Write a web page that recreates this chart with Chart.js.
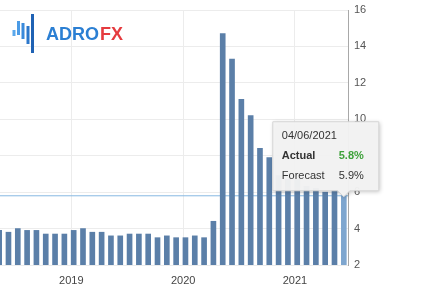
<!DOCTYPE html>
<html>
<head>
<meta charset="utf-8">
<script src="https://cdn.jsdelivr.net/npm/chart.js@4/dist/chart.umd.min.js"></script>
<style>
html,body{margin:0;padding:0;background:#fff;}
#wrap{width:428px;height:287px;position:relative;}
</style>
</head>
<body>
<div id="wrap"><canvas id="c" width="428" height="287"></canvas></div>
<script>
// Release dates (dd/mm/yyyy) of the US unemployment rate
const releaseDates = ['04/05/2018','01/06/2018','06/07/2018','03/08/2018','07/09/2018','05/10/2018','02/11/2018','07/12/2018',
  '04/01/2019','01/02/2019','08/03/2019','05/04/2019','03/05/2019','07/06/2019','05/07/2019','02/08/2019','06/09/2019','04/10/2019','01/11/2019','06/12/2019',
  '10/01/2020','07/02/2020','06/03/2020','03/04/2020','08/05/2020','05/06/2020','02/07/2020','07/08/2020','04/09/2020','02/10/2020','06/11/2020','04/12/2020',
  '08/01/2021','05/02/2021','05/03/2021','02/04/2021','07/05/2021','04/06/2021'];
const actualValues = [3.9,3.8,4.0,3.9,3.9,3.7,3.7,3.7,
  3.9,4.0,3.8,3.8,3.6,3.6,3.7,3.7,3.7,3.5,3.6,3.5,
  3.5,3.6,3.5,4.4,14.7,13.3,11.1,10.2,8.4,7.9,6.9,6.7,
  6.7,6.3,6.2,6.0,6.1,5.8];
const forecastLast = 5.9;
const yearLabels = ['2019','2020','2021'];
const yTicks = [2,4,6,8,10,12,14,16];

function monthIndex(d){ const p = d.split('/'); return (+p[2])*12 + (+p[1]) - 1; }
const xs = releaseDates.map(monthIndex);
const last = actualValues.length - 1;
const barPoints = xs.map((x,i)=>({x:x, y:actualValues[i]}));
const xMin = xs[0] + 0.09, xMax = xs[last] + 0.45;
const linePoints = [{x:xMin, y:actualValues[last]}, {x:xMax, y:actualValues[last]}];

const barColors = actualValues.map((v,i)=> i===last ? '#7ea6cf' : '#5b7fa8');

const logoPlugin = {
  id:'logo',
  afterDatasetsDraw(chart){
    const ctx = chart.ctx;
    ctx.save();
    const bars = [[12.5,30,36,'#5aa8ec'],[17,21,35,'#4b9be6'],[21.5,23,39,'#3a8adb'],[26.5,26,44,'#2c78cc'],[31,14,53,'#1f62b4']];
    bars.forEach(b=>{ ctx.fillStyle=b[3]; ctx.fillRect(b[0],b[1],3,b[2]-b[1]); });
    ctx.font = 'bold 18px "Liberation Sans", Arial, sans-serif';
    ctx.textBaseline = 'alphabetic';
    ctx.fillStyle = '#2b7fd3';
    ctx.fillText('ADRO', 46, 40);
    const w = ctx.measureText('ADRO').width;
    ctx.fillStyle = '#e53b3f';
    ctx.fillText('FX', 46 + w + 1, 40);
    ctx.restore();
  }
};

const tipPlugin = {
  id:'tip',
  afterDraw(chart){
    const ctx = chart.ctx;
    const el = chart.getDatasetMeta(1).data[last];
    const px = el.x, py = chart.scales.y.getPixelForValue(actualValues[last]);
    const L = px - 71, R = px + 35, B = py - 5, T = py - 74;
    ctx.save();
    ctx.beginPath();
    ctx.moveTo(L,T); ctx.lineTo(R,T); ctx.lineTo(R,B);
    ctx.lineTo(px+6,B); ctx.lineTo(px,B+6); ctx.lineTo(px-6,B);
    ctx.lineTo(L,B); ctx.closePath();
    ctx.shadowColor='rgba(0,0,0,0.25)'; ctx.shadowBlur=4; ctx.shadowOffsetX=1; ctx.shadowOffsetY=1;
    ctx.fillStyle='rgba(244,244,244,0.96)';
    ctx.fill();
    ctx.shadowColor='transparent';
    ctx.strokeStyle='#d6d6d6'; ctx.lineWidth=1; ctx.stroke();
    ctx.textBaseline='middle';
    ctx.fillStyle='#333';
    ctx.font='11px "Liberation Sans", Arial, sans-serif';
    ctx.textAlign='left';
    ctx.fillText(releaseDates[last], L+9, T+14);
    ctx.font='bold 11px "Liberation Sans", Arial, sans-serif';
    ctx.fillText('Actual', L+9, T+34);
    ctx.textAlign='right';
    ctx.fillStyle='#3ea23a';
    ctx.fillText(actualValues[last].toFixed(1)+'%', R-15, T+34);
    ctx.font='11px "Liberation Sans", Arial, sans-serif';
    ctx.fillStyle='#333';
    ctx.textAlign='left';
    ctx.fillText('Forecast', L+9, T+54);
    ctx.textAlign='right';
    ctx.fillText(forecastLast.toFixed(1)+'%', R-15, T+54);
    ctx.restore();
  }
};

new Chart(document.getElementById('c'), {
  type:'bar',
  data:{
    datasets:[
      {type:'line', data:linePoints, borderColor:'#86b8e2', borderWidth:1, pointRadius:0, fill:false, order:2},
      {type:'bar', data:barPoints, backgroundColor:barColors, barThickness:5, order:1}
    ]
  },
  options:{
    responsive:false, animation:false, devicePixelRatio:1,
    layout:{padding:{left:0,right:0,top:10,bottom:0}},
    plugins:{legend:{display:false}, tooltip:{enabled:false}},
    events:[],
    scales:{
      x:{
        type:'linear', min:xMin, max:xMax, offset:false,
        afterBuildTicks(s){ s.ticks = yearLabels.map(y=>({value:(+y)*12 - 0.25})); },
        ticks:{autoSkip:false, maxRotation:0, padding:9, color:'#444',
          font:{family:'"Liberation Sans", Arial, sans-serif', size:11},
          callback(v){ return String(Math.round((v+0.25)/12)); }},
        grid:{color:'#ececec', drawTicks:false, offset:false},
        border:{display:false},
        afterFit(s){ s.height = 22; s.paddingLeft = 0; s.paddingRight = 0; }
      },
      y:{
        position:'right', min:2, max:16,
        afterBuildTicks(s){ s.ticks = yTicks.map(v=>({value:v})); },
        ticks:{padding:6, color:'#555', font:{family:'"Liberation Sans", Arial, sans-serif', size:11}},
        grid:{color:'#ececec', drawTicks:false},
        border:{display:true, color:'#a8a8a8'},
        afterFit(s){ s.width = 80; s.paddingTop = 0; s.paddingBottom = 0; }
      }
    }
  },
  plugins:[logoPlugin, tipPlugin]
});
</script>
</body>
</html>
